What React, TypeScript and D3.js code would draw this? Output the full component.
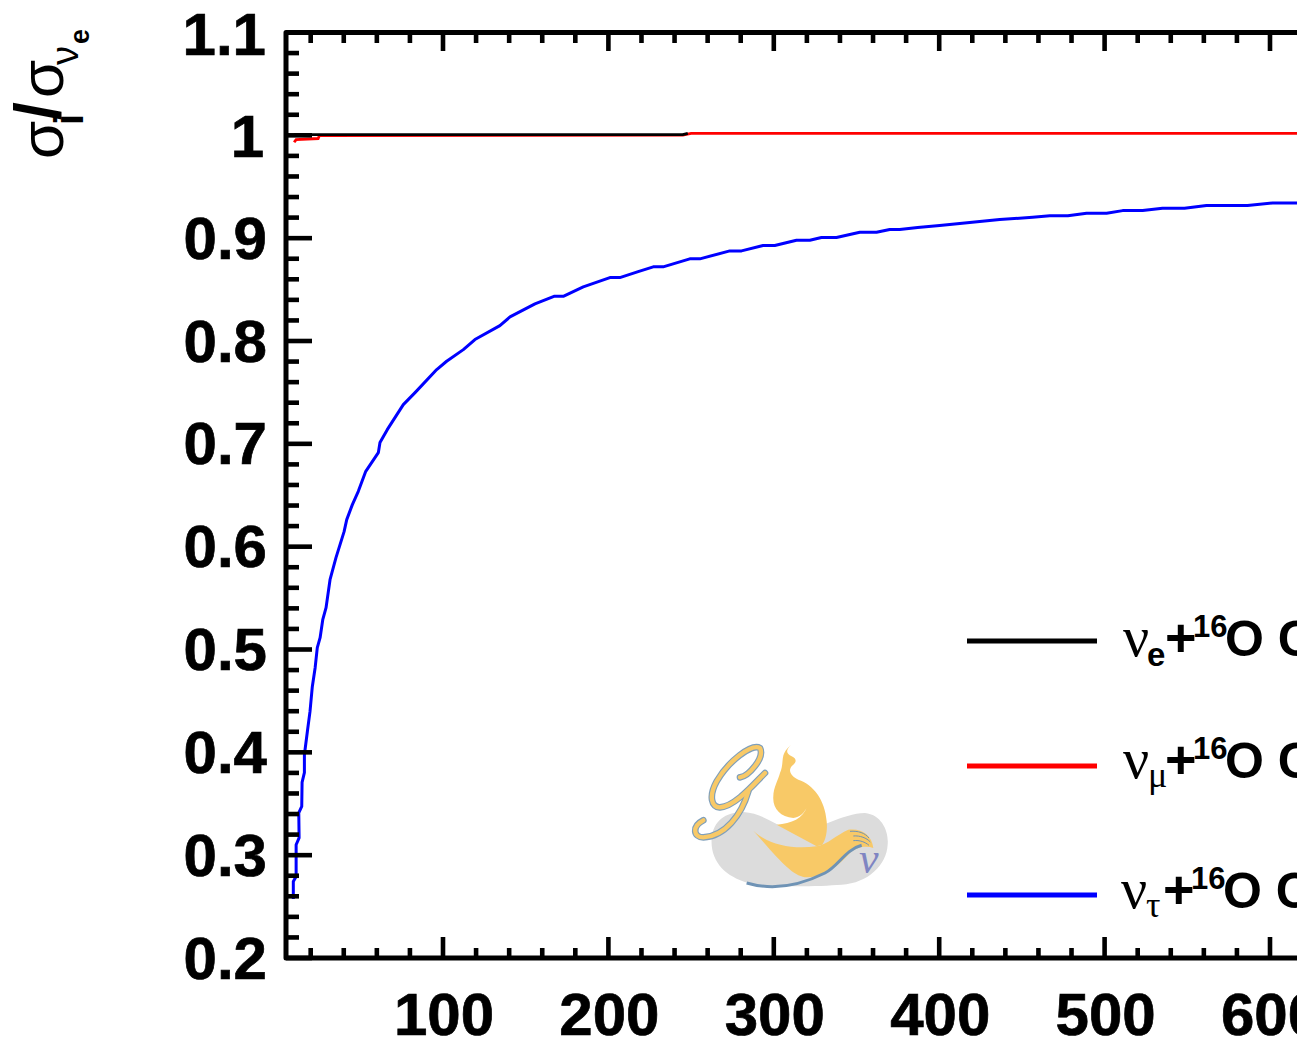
import React from "react";
import * as d3 from "d3";

const WIDTH = 1297;
const HEIGHT = 1043;

const SANS = "'Liberation Sans', Arimo, Helvetica, sans-serif";
const SERIF = "'Liberation Serif', 'Times New Roman', serif";

// ── Data ───────────────────────────────────────────────────
const tauX = [
  9.5, 9.5, 11.2, 11.2, 13, 12.8, 14.6, 14.8, 16.2, 16.2, 18, 19.6, 21, 22.7,
  24, 25.7, 27.3, 29.3, 31.7, 35.3, 40.2, 41.8, 45.2, 48.8, 53.3, 60.9, 61.9,
  66.3, 76, 83.1, 96.2, 102.2, 112.3, 119.3, 134.4, 140.5, 155.6, 167.1, 172.7,
  184.8, 200.9, 206.9, 218, 227.1, 233.1, 249.2, 255.3, 273.4, 280.5, 293.5,
  300.6, 313.7, 321.8, 328.8, 337.9, 352, 362.1, 370.1, 376.1, 387, 400.3,
  409.4, 424.5, 436.6, 456.5, 466.9, 477.8, 489.1, 501.2, 510.9, 523, 535,
  548.3, 561.6, 586.4, 601.5, 620,
];
const tauY = [
  0.2573, 0.2744, 0.2793, 0.3101, 0.3169, 0.3412, 0.3474, 0.3707, 0.3802,
  0.3977, 0.4203, 0.4398, 0.4641, 0.4823, 0.5018, 0.5115, 0.529, 0.5407, 0.5679,
  0.5893, 0.6146, 0.6263, 0.6409, 0.6538, 0.6733, 0.6914, 0.7012, 0.7138,
  0.7381, 0.7498, 0.7722, 0.7803, 0.7916, 0.8014, 0.815, 0.8234, 0.8361, 0.8435,
  0.8435, 0.8526, 0.8617, 0.8617, 0.8675, 0.8721, 0.8721, 0.8799, 0.8799,
  0.8876, 0.8876, 0.8928, 0.8928, 0.898, 0.898, 0.9006, 0.9006, 0.9057, 0.9057,
  0.9084, 0.9084, 0.9103, 0.9123, 0.9137, 0.9161, 0.9181, 0.9203, 0.9217,
  0.9217, 0.9242, 0.9242, 0.9268, 0.9268, 0.9291, 0.9291, 0.9317, 0.9317,
  0.9343, 0.9343,
];
const muX = [10, 11.2, 24.5, 25.3, 245, 250, 620];
const muY = [0.9933, 0.9959, 0.9969, 0.9998, 1.0002, 1.0019, 1.0019];
const eX = [10, 245, 248];
const eY = [1.0006, 1.0006, 1.0019];

const yMajor = [0.2, 0.3, 0.4, 0.5, 0.6, 0.7, 0.8, 0.9, 1, 1.1];
const yMajorLabels = ["0.2", "0.3", "0.4", "0.5", "0.6", "0.7", "0.8", "0.9", "1", "1.1"];
const xMajor = [100, 200, 300, 400, 500, 600];

const legendSubs = ["e", "μ", "τ"];
const legendColors = ["#000000", "#ff0000", "#0000ff"];
const legendY = [641, 766, 895];
const legendBase = [656, 778, 908];

// ── Scales ─────────────────────────────────────────────────
const x = d3.scaleLinear().domain([100, 600]).range([443, 1270]);
const y = d3.scaleLinear().domain([0.2, 1.1]).range([958, 32.5]);

const xMinor = d3.range(20, 640, 20).filter((v) => v % 100 !== 0);
const yMinor = d3.range(11, 55).map((v) => v * 0.02).filter((v) => Math.round(v * 50) % 5 !== 0);

function seriesPath(xs: number[], ys: number[]) {
  return d3
    .line<number>()
    .x((d) => x(d))
    .y((_d, i) => y(ys[i]))(xs) as string;
}

const G_UPPER =
  "M165 118 C190 115 240 60 225 30 C200 15 130 70 95 130 C70 175 80 210 105 208 C150 205 205 140 240 105";
const G_LOWER = "M190 160 C170 230 120 295 55 298 C25 298 20 265 55 247";

function Logo() {
  return (
    <g>
      <g transform="translate(685,738) scale(0.3333)">
        {/* grey blob */}
        <path
          d="M80 300 C85 250 120 222 175 222 C230 225 270 260 320 280 C390 285 470 225 540 225 C590 230 612 280 608 320 C605 380 550 435 470 440 C400 445 270 450 190 435 C120 415 75 370 80 300 Z"
          fill="#dcdcdc"
        />
        {/* figure */}
        <path
          d="M318 20 C300 38 305 48 320 55 C335 62 335 72 325 80 C305 95 318 115 340 125 C385 140 420 185 425 250 C428 280 422 305 412 320 L395 325 L275 260 C320 258 355 240 365 208 C358 225 345 238 325 240 C285 238 262 210 265 175 C265 150 280 125 285 105 C295 85 290 60 298 45 C302 35 310 28 318 20 Z"
          fill="#f8c967"
        />
        <path
          d="M205 278 C250 320 320 335 395 325 C430 318 455 290 490 275 C530 270 560 290 565 330 C540 322 510 328 490 350 C450 395 400 420 360 418 C320 410 290 375 205 278 Z"
          fill="#f8c967"
        />
        <path
          d="M185 435 C270 460 350 440 420 405 C460 385 480 335 530 322"
          fill="none"
          stroke="#6f93b5"
          strokeWidth={9}
        />
        <path
          d="M495 280 C520 278 540 285 552 300 M505 294 C525 292 545 300 556 312 M505 308 C525 306 540 312 552 322"
          fill="none"
          stroke="#6f93b5"
          strokeWidth={3}
        />
        {/* the G */}
        <g fill="none" strokeLinecap="round" strokeLinejoin="round">
          <path d={G_UPPER} stroke="#7f9fba" strokeWidth={20} />
          <path d={G_LOWER} stroke="#7f9fba" strokeWidth={20} />
          <path d={G_UPPER} stroke="#f8c967" strokeWidth={13} />
          <path d={G_LOWER} stroke="#f8c967" strokeWidth={13} />
        </g>
      </g>
      <text x={859} y={873} fontFamily={SERIF} fontStyle="italic" fontSize={44} fill="#7f85c2">
        ν
      </text>
    </g>
  );
}

function LegendRow({ i }: { i: number }) {
  const cy = legendY[i];
  const base = legendBase[i];
  const dx = i === 2 ? -2 : 0;
  const x0 = 1123 + dx;
  return (
    <g>
      <line x1={967} x2={1097} y1={cy} y2={cy} stroke={legendColors[i]} strokeWidth={5} />
      <text x={x0} y={base} fontFamily={SERIF} fontSize={58}>
        ν
      </text>
      {i === 0 ? (
        <text x={x0 + 24} y={base + 10} fontFamily={SANS} fontWeight="bold" fontSize={33}>
          {legendSubs[i]}
        </text>
      ) : (
        <text x={x0 + 25} y={base + 9} fontFamily={SERIF} fontSize={36}>
          {legendSubs[i]}
        </text>
      )}
      <text x={x0 + 42} y={base} fontFamily={SANS} fontWeight="bold" fontSize={54}>
        +
      </text>
      <text x={x0 + 70} y={base - 19} fontFamily={SANS} fontWeight="bold" fontSize={31}>
        16
      </text>
      <text x={x0 + 102} y={base} fontFamily={SANS} fontWeight="bold" fontSize={50}>
        O CC
      </text>
    </g>
  );
}

export default function App() {
  return (
    <svg
      width={WIDTH}
      height={HEIGHT}
      style={{ position: "absolute", left: 0, top: 0, display: "block", background: "#fff" }}
    >
      {/* y title, rotated */}
      <g transform="translate(63,0) rotate(-90)" fontFamily={SANS} fill="#000">
        <text x={-159} y={0} fontSize={62}>σ</text>
        <text x={-125} y={20} fontSize={40} fontWeight="bold">i</text>
        <text x={-120} y={-3} fontSize={64} fontWeight="bold">/</text>
        <text x={-98} y={0} fontSize={62}>σ</text>
        <text x={-65} y={15} fontSize={38}>ν</text>
        <text x={-44} y={26} fontSize={27} fontWeight="bold">e</text>
      </g>

      {/* curves */}
      <path d={seriesPath(muX, muY)} fill="none" stroke="#ff0000" strokeWidth={2.8} />
      <path d={seriesPath(eX, eY)} fill="none" stroke="#000000" strokeWidth={2.8} />
      <path d={seriesPath(tauX, tauY)} fill="none" stroke="#0000ff" strokeWidth={3} strokeLinejoin="round" />

      {/* y ticks */}
      <g stroke="#000" strokeWidth={4.6}>
        {yMinor.map((v) => (
          <line key={v} x1={286} x2={299} y1={y(v)} y2={y(v)} />
        ))}
        {yMajor.map((v) => (
          <line key={v} x1={286} x2={312} y1={y(v)} y2={y(v)} />
        ))}
        {/* x ticks, bottom and top */}
        {xMinor.map((v) => (
          <g key={v}>
            <line x1={x(v)} x2={x(v)} y1={958} y2={948} />
            <line x1={x(v)} x2={x(v)} y1={32.5} y2={43} />
          </g>
        ))}
        {xMajor.map((v) => (
          <g key={v}>
            <line x1={x(v)} x2={x(v)} y1={958} y2={937} />
            <line x1={x(v)} x2={x(v)} y1={32.5} y2={51} />
          </g>
        ))}
      </g>

      {/* axis frame */}
      <path
        d={`M${WIDTH + 5},32.5 H286 V958 H${WIDTH + 5}`}
        fill="none"
        stroke="#000"
        strokeWidth={5}
        strokeLinejoin="round"
      />

      {/* tick labels */}
      <g fontFamily={SANS} fontWeight="bold" fontSize={60} fill="#000" stroke="#000" strokeWidth={0.7}>
        {yMajor.map((v, i) => (
          <text
            key={v}
            x={v > 1 ? 266 : v === 1 ? 264 : 267}
            y={y(v) + (v >= 1 ? 22 : 20.5)}
            textAnchor="end"
          >
            {yMajorLabels[i]}
          </text>
        ))}
        {xMajor.map((v) => (
          <text key={v} x={x(v) + 1} y={1035} textAnchor="middle">
            {v}
          </text>
        ))}
      </g>

      <Logo />
      {legendSubs.map((_s, i) => (
        <LegendRow key={i} i={i} />
      ))}
    </svg>
  );
}
